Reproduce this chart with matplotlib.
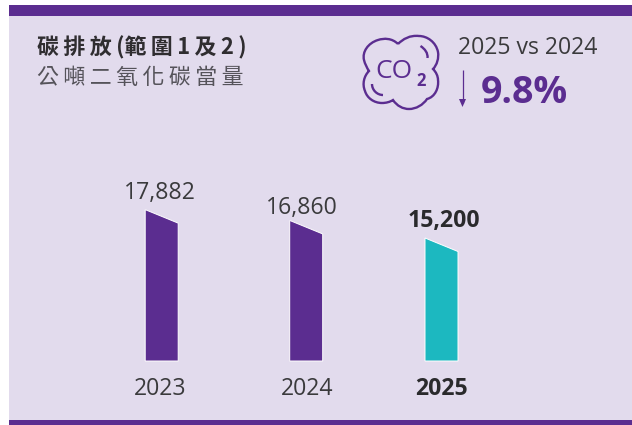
import matplotlib
matplotlib.use("Agg")
import matplotlib.pyplot as plt
from matplotlib.path import Path
from matplotlib.patches import PathPatch, Rectangle, Polygon

years = ["2023", "2024", "2025"]
values = [17882, 16860, 15200]
value_labels = ["17,882", "16,860", "15,200"]
title_bold = "碳\u2009排\u2009放\u2009(範\u2009圍\u20091\u2009及\u20092\u2009)"
title_sub = "公\u2009噸\u2009二\u2009氧\u2009化\u2009碳\u2009當\u2009量"
compare_label = "2025 vs 2024"
change_label = "9.8%"

PURPLE = "#5b2d90"
TEAL = "#1cb8c0"
BG = "#e2dbed"
TXT = "#3a3a3c"
DARK = "#2a2a2c"
W, H = 632, 425
CJK = ["Noto Sans CJK TC", "DejaVu Sans"]
LAT = ["Open Sans", "DejaVu Sans"]

fig = plt.figure(figsize=(W / 100, H / 100), dpi=100, facecolor="white")

# overlay in pixel coordinates
ov = fig.add_axes([0, 0, 1, 1])
ov.set_xlim(0, W); ov.set_ylim(H, 0); ov.axis("off")
ov.add_patch(Rectangle((9, 5), W - 9, H - 5, fc=BG, ec="none"))
ov.add_patch(Rectangle((9, 5), W - 9, 11, fc=PURPLE, ec="none"))
ov.add_patch(Rectangle((9, 420), W - 9, 5, fc=PURPLE, ec="none"))

# value axis: baseline at pixel 361
px_per_unit = 0.01058
base_px = 361
val_at_base = 16647 - 138.3 / px_per_unit
ax = fig.add_axes([0, 0, 1, 1], facecolor="none")
ax.set_xlim(0, W)
ax.set_ylim(val_at_base - (H - base_px) / px_per_unit, val_at_base + base_px / px_per_unit)
ax.axis("off")

centers = [161.7, 306.2, 441.5]
label_x = [160, 302, 443.5]
label_y = [193, 208, 221]
year_x = [160.5, 307, 441]
bar_w = 33
slant = 13.5 / px_per_unit
colors = [PURPLE, PURPLE, TEAL]
label_bold = [False, False, True]
for i, (c, v, col, lab, yr, b) in enumerate(zip(centers, values, colors, value_labels, years, label_bold)):
    l, r = c - bar_w / 2, c + bar_w / 2
    ax.add_patch(Polygon([(l, val_at_base), (l, v), (r, v - slant), (r, val_at_base)],
                         closed=True, fc=col, ec="white", lw=0.7, joinstyle="miter"))
    weight = "bold" if b else "normal"
    tc = DARK if b else TXT
    ov.text(label_x[i], label_y[i], lab, family=LAT, fontsize=16.6, weight=weight, color=tc,
            ha="center", va="center")
    ov.text(year_x[i], 389, yr, family=LAT, fontsize=16.6, weight=weight, color=tc,
            ha="center", va="center")

ov.text(37, 48, title_bold, family=CJK, fontsize=15.8, weight="bold", color="#2f2d30",
        ha="left", va="center")
ov.text(37, 78, title_sub, family=CJK, fontsize=15.8, weight="light", color="#55535a",
        ha="left", va="center")
ov.text(458, 48, compare_label, family=LAT, fontsize=16.6, color=TXT, ha="left", va="center")
ov.text(481, 93, change_label, family=LAT, fontsize=27, weight="bold", color=PURPLE,
        ha="left", va="center")

# down arrow
ov.plot([462.5, 462.5], [70, 103], color=PURPLE, lw=0.9, solid_capstyle="butt")
ov.add_patch(Polygon([(459, 99), (466, 99), (462.5, 107)], closed=True, fc=PURPLE, ec="none"))

# CO2 cloud icon
M, C = Path.MOVETO, Path.CURVE4
pts = [(398, 44),
       (392, 38), (384, 38), (378, 40),
       (368, 43), (362, 52), (364, 60),
       (365, 64), (367, 68), (369, 71),
       (364, 76), (362, 84), (365, 91),
       (367, 98), (374, 103), (382, 103),
       (386, 103), (390, 102), (393, 100),
       (397, 106), (403, 109), (409, 109),
       (416, 109), (423, 105), (427, 99),
       (435, 97), (439, 88), (438, 80),
       (438, 76), (436, 72), (433, 69),
       (437, 65), (439, 58), (438, 52),
       (436, 42), (427, 36), (419, 36),
       (410, 35), (403, 39), (398, 44)]
codes = [M] + [C] * (len(pts) - 1)
ov.add_patch(PathPatch(Path(pts, codes), fc="none", ec=PURPLE, lw=1.7))
ov.add_patch(PathPatch(Path([(420.5, 46), (425, 49), (428, 53), (427.5, 58)], [M, C, C, C]),
                       fc="none", ec=PURPLE, lw=1.7))
ov.add_patch(PathPatch(Path([(372, 84), (372, 90), (377, 95), (383, 95)], [M, C, C, C]),
                       fc="none", ec=PURPLE, lw=1.7))
ov.text(375.5, 71.5, "CO", family=LAT, fontsize=19, color=PURPLE, ha="left", va="center")
ov.text(421.5, 81, "2", family=LAT, fontsize=12, weight="bold", color=PURPLE, ha="center", va="center")

fig.savefig("out.png", dpi=100)
